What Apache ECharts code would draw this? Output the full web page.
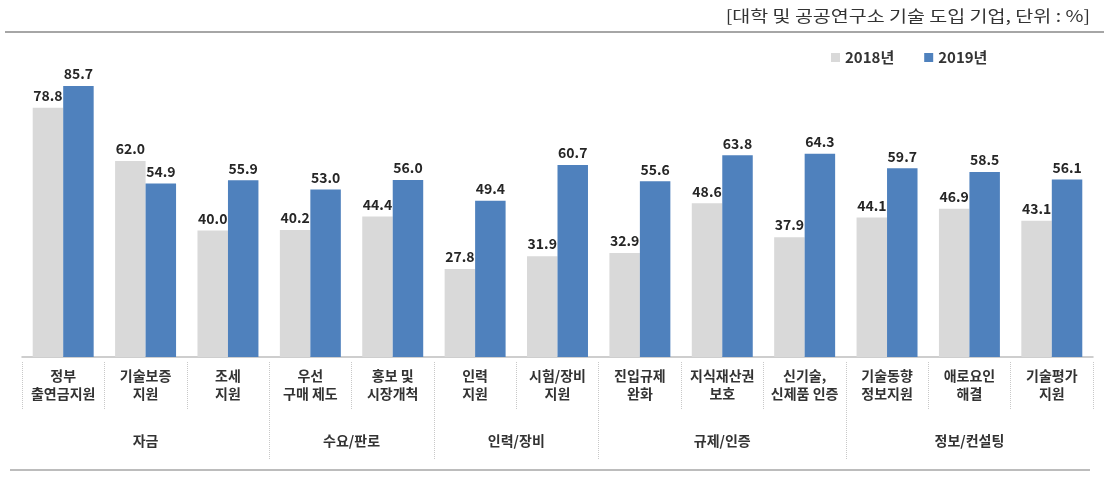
<!DOCTYPE html>
<html><head><meta charset="utf-8">
<script src="https://cdn.jsdelivr.net/npm/echarts@6/dist/echarts.min.js"></script>
<style>html,body{margin:0;padding:0;background:#fff}#c{width:1104px;height:482px}</style>
</head><body><div id="c"></div>
<script>
const categories = ['정부\n출연금지원','기술보증\n지원','조세\n지원','우선\n구매 제도','홍보 및\n시장개척','인력\n지원','시험/장비\n지원','진입규제\n완화','지식재산권\n보호','신기술,\n신제품 인증','기술동향\n정보지원','애로요인\n해결','기술평가\n지원'];
const v2018 = [78.8,62.0,40.0,40.2,44.4,27.8,31.9,32.9,48.6,37.9,44.1,46.9,43.1];
const v2019 = [85.7,54.9,55.9,53.0,56.0,49.4,60.7,55.6,63.8,64.3,59.7,58.5,56.1];
const groups = ['자금','수요/판로','인력/장비','규제/인증','정보/컨설팅'];
const groupBounds = [0,3,5,7,10,13];
const seriesNames = ['2018년','2019년'];
const note = '[대학 및 공공연구소 기술 도입 기업, 단위 : %]';

const groupCenters = groups.map((g,i)=>(groupBounds[i]+groupBounds[i+1])/2);
const FONT = '"Noto Sans CJK KR", "Noto Sans", sans-serif';
const chart = echarts.init(document.getElementById('c'));
chart.setOption({
  animation:false,
  textStyle:{fontFamily:FONT},
  graphic:[
    {type:'line',shape:{x1:5,y1:32,x2:1104,y2:32},style:{stroke:'#a6a6a6',lineWidth:2}},
    {type:'line',shape:{x1:10,y1:470,x2:1090,y2:470},style:{stroke:'#a6a6a6',lineWidth:1.5}},
    {type:'text',x:1090,y:16,scaleX:1.22,style:{text:note,font:'16px '+FONT,fill:'#333',align:'right',verticalAlign:'middle'}}
  ],
  legend:{data:seriesNames,left:826,top:45,itemWidth:9,itemHeight:9,itemGap:30,icon:'rect',
    textStyle:{fontFamily:FONT,fontWeight:'bold',fontSize:15,color:'#333'}},
  grid:{left:22,right:11,top:40.8,height:316.2,containLabel:false},
  xAxis:[
    {type:'category',data:categories,axisLine:{lineStyle:{color:'#bfbfbf',width:1.5}},axisTick:{show:false},
     axisLabel:{interval:0,margin:10,fontFamily:FONT,fontWeight:'bold',fontSize:14,lineHeight:18,color:'#333'}},
    {type:'category',data:categories,position:'bottom',offset:5,axisLine:{show:false},
     axisTick:{show:true,interval:0,length:48,lineStyle:{color:'#c8c8c8',type:'dotted'}},axisLabel:{show:false}},
    {type:'value',min:0,max:13,position:'bottom',offset:5,axisLine:{show:false},splitLine:{show:false},
     axisTick:{show:true,customValues:groupBounds.slice(1,-1),length:98,lineStyle:{color:'#c8c8c8',type:'dotted'}},
     axisLabel:{show:true,customValues:groupCenters,margin:72,fontFamily:FONT,fontWeight:'bold',fontSize:14,color:'#333',
       formatter:(v)=>{const i=groupCenters.indexOf(v);return i>=0?groups[i]:'';}}}
  ],
  yAxis:{type:'value',min:0,max:100,show:false,splitLine:{show:false}},
  series:[
    {name:seriesNames[0],type:'bar',data:v2018,xAxisIndex:0,barGap:'0%',barCategoryGap:'26%',itemStyle:{color:'#d9d9d9'},
     label:{show:true,position:'top',distance:5,formatter:p=>p.value.toFixed(1),fontFamily:FONT,fontWeight:'bold',fontSize:14,color:'#262626'}},
    {name:seriesNames[1],type:'bar',data:v2019,xAxisIndex:0,barGap:'0%',barCategoryGap:'26%',itemStyle:{color:'#4f81bd'},
     label:{show:true,position:'top',distance:5,formatter:p=>p.value.toFixed(1),fontFamily:FONT,fontWeight:'bold',fontSize:14,color:'#262626'}}
  ]
});
</script></body></html>
